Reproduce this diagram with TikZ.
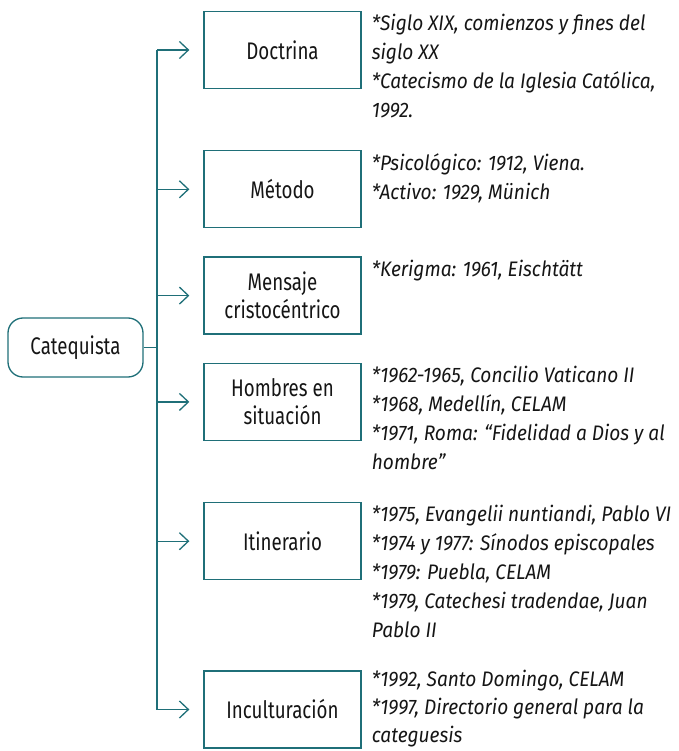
\documentclass[tikz,border=0pt]{standalone}
\usepackage{xcolor}
\usepackage{fontspec}
\setmainfont{Fira Sans}[FakeStretch=0.78]
\newfontfamily\notefont{Fira Sans Italic}[FakeStretch=0.91]
\usepackage{tikz}
\usetikzlibrary{shapes,arrows,arrows.meta,positioning,calc}
\definecolor{tealline}{HTML}{1F6F78}
\definecolor{inktext}{HTML}{151515}

\begin{document}
\begin{tikzpicture}[
        x=1pt, y=-1pt,
        node distance=28pt,
        box/.style={rectangle, draw=tealline, line width=1.3pt, minimum width=157pt, minimum height=77pt, align=center, font=\fontsize{24}{28}\selectfont, text=inktext},
        root/.style={box, rounded corners=15pt, minimum width=135pt, minimum height=59pt},
        note/.style={align=left, inner sep=0pt, font=\notefont\fontsize{21}{29}\selectfont, text=inktext},
        line/.style={draw=tealline, line width=1.3pt},
        arrow/.style={line, -{Straight Barb[length=9pt, width=17pt]}, shorten >=14pt}
    ]
        \useasboundingbox (0,0) rectangle (678,751);

        % Root node
        \node[root] (catequista) at (75.5,347.5) {Catequista};
        \coordinate (trunk) at (157,347.5);

        % Stages
        \node[box] (doctrina) at (282.5,50) {Doctrina};
        \node[box, below=61pt of doctrina] (metodo) {Método};
        \node[box, below=of metodo] (mensaje) {Mensaje\\cristocéntrico};
        \node[box, below=of mensaje] (hombres) {Hombres en\\situación};
        \node[box, below=61pt of hombres] (itinerario) {Itinerario};
        \node[box, below=90pt of itinerario] (inculturacion) {Inculturación};

        % Notes
        \node[note, below right=3pt and 10pt of doctrina.north east] (doctrinanote) {*Siglo XIX, comienzos y fines del\\siglo XX\\*Catecismo de la Iglesia Católica,\\1992.};
        \node[note, below right=3pt and 10pt of metodo.north east] (metodonote) {*Psicológico: 1912, Viena.\\*Activo: 1929, Münich};
        \node[note, below right=3pt and 10pt of mensaje.north east] (mensajenote) {*Kerigma: 1961, Eischtätt};
        \node[note, below right=3pt and 10pt of hombres.north east] (hombresnote) {*1962-1965, Concilio Vaticano II\\*1968, Medellín, CELAM\\*1971, Roma: “Fidelidad a Dios y al\\hombre”};
        \node[note, below right=3pt and 10pt of itinerario.north east] (itinerarionote) {*1975, Evangelii nuntiandi, Pablo VI\\*1974 y 1977: Sínodos episcopales\\*1979: Puebla, CELAM\\*1979, Catechesi tradendae, Juan\\Pablo II};
        \node[note, below right=0pt and 10pt of inculturacion.north east, font=\notefont\fontsize{21}{28}\selectfont] (inculturacionnote) {*1992, Santo Domingo, CELAM\\*1997, Directorio general para la\\categuesis};

        % Trunk
        \draw[line] (catequista.east) -- (trunk);
        \draw[line] (doctrina.west -| trunk) -- (inculturacion.west -| trunk);

        % Arrows
        \draw[arrow] (doctrina.west -| trunk) -- (doctrina.west);
        \draw[arrow] (metodo.west -| trunk) -- (metodo.west);
        \draw[arrow] (mensaje.west -| trunk) -- (mensaje.west);
        \draw[arrow] (hombres.west -| trunk) -- (hombres.west);
        \draw[arrow] (itinerario.west -| trunk) -- (itinerario.west);
        \draw[arrow] (inculturacion.west -| trunk) -- (inculturacion.west);
    \end{tikzpicture}
\end{document}
